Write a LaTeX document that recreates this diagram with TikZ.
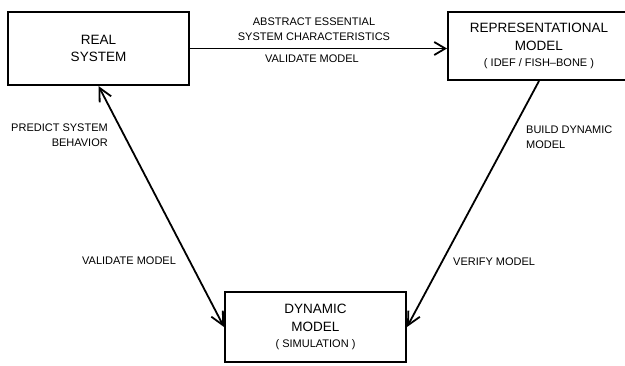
\documentclass[tikz,border=0pt]{standalone}
\usepackage{fontspec}
\setmainfont{Liberation Sans}
\usetikzlibrary{arrows.meta, positioning}

\begin{document}
\begin{tikzpicture}[
    x=1pt, y=-1pt,
    box/.style={draw, line width=2pt, align=center, font=\fontsize{13.5}{17.5}\selectfont},
    link/.style={line width=1.8pt},
    lbl/.style={font=\fontsize{11}{15}\selectfont, inner sep=0pt}
]
    \useasboundingbox (0,0) rectangle (625,365);

    % Boxes
    \node[box, minimum width=181pt, minimum height=73pt] (real) at (98.5,48.5) {
        REAL\\SYSTEM
    };
    \node[box, minimum width=182pt, minimum height=68pt] (repr) at (539,46) {
        REPRESENTATIONAL\\MODEL\\[-1pt]
        {\fontsize{11}{14}\selectfont ( IDEF / FISH--BONE )}
    };
    \node[box, minimum width=181pt, minimum height=70pt] (dyn) at (315.5,327) {
        DYNAMIC\\MODEL\\[-1pt]
        {\fontsize{11}{14}\selectfont ( SIMULATION )}
    };

    % Labels
    \node[lbl, align=center] (abstract) at (314,29.5) {ABSTRACT ESSENTIAL\\SYSTEM CHARACTERISTICS};
    \node[lbl] (valtop) at (312,59) {VALIDATE MODEL};
    \node[lbl, align=right, anchor=east] (predict) at (108,135) {PREDICT SYSTEM\\BEHAVIOR};
    \node[lbl, anchor=west] (valleft) at (82,261) {VALIDATE MODEL};
    \node[lbl, align=left, anchor=west] (build) at (526,137) {BUILD DYNAMIC\\MODEL};
    \node[lbl, anchor=west] (verify) at (453,262) {VERIFY MODEL};

    % Arrows
    \draw[link, -{Straight Barb[length=11pt, width=13pt]}] (real.east) -- (real.east -| repr.west);
    \draw[link, {Straight Barb[length=13pt, width=13pt]}-{Straight Barb[length=13pt, width=13pt]}] (real.south) -- (dyn.west);
    \draw[link, -{Straight Barb[length=13pt, width=13pt]}] (repr.south) -- (dyn.east);
\end{tikzpicture}
\end{document}
